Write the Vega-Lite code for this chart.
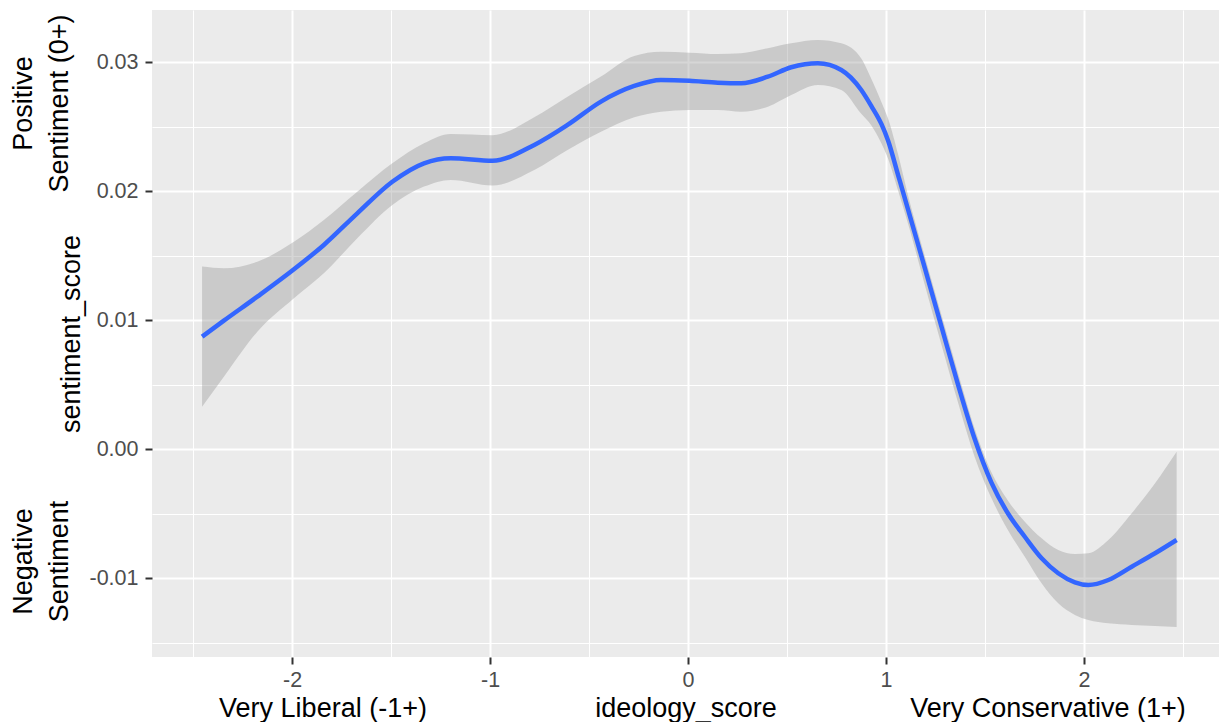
{
  "$schema": "https://vega.github.io/schema/vega-lite/v6.json",
  "width": 1067,
  "height": 647,
  "autosize": {"type": "none"},
  "padding": {"left": 152, "top": 10, "right": 0, "bottom": 65},
  "background": "#FFFFFF",
  "config": {
    "view": {"fill": "#EBEBEB", "stroke": null},
    "font": "Liberation Sans",
    "axis": {
      "labelFont": "Liberation Sans",
      "titleFont": "Liberation Sans",
      "labelFontSize": 21.5,
      "labelColor": "#4D4D4D",
      "titleFontSize": 27,
      "titleFontWeight": "normal",
      "titleColor": "#000000",
      "tickColor": "#333333",
      "tickSize": 7,
      "tickWidth": 2,
      "domain": false,
      "gridColor": "#FFFFFF",
      "gridWidth": 2,
      "gridOpacity": 1
    }
  },
  "data": {
    "values": [
      {"ideology_score": -2.455, "sentiment_score": 0.00873, "lower": 0.0033, "upper": 0.01416},
      {"ideology_score": -2.345, "sentiment_score": 0.00997, "lower": 0.00563, "upper": 0.01403},
      {"ideology_score": -2.176, "sentiment_score": 0.01183, "lower": 0.00912, "upper": 0.01454},
      {"ideology_score": -1.991, "sentiment_score": 0.01395, "lower": 0.01171, "upper": 0.01609},
      {"ideology_score": -1.84, "sentiment_score": 0.01584, "lower": 0.01364, "upper": 0.01778},
      {"ideology_score": -1.671, "sentiment_score": 0.01829, "lower": 0.01636, "upper": 0.01997},
      {"ideology_score": -1.494, "sentiment_score": 0.02074, "lower": 0.01894, "upper": 0.02217},
      {"ideology_score": -1.334, "sentiment_score": 0.02217, "lower": 0.02036, "upper": 0.02372},
      {"ideology_score": -1.199, "sentiment_score": 0.02256, "lower": 0.02088, "upper": 0.02444},
      {"ideology_score": -0.988, "sentiment_score": 0.02237, "lower": 0.02045, "upper": 0.02435},
      {"ideology_score": -0.777, "sentiment_score": 0.02359, "lower": 0.02165, "upper": 0.02574},
      {"ideology_score": -0.609, "sentiment_score": 0.02514, "lower": 0.0232, "upper": 0.02733},
      {"ideology_score": -0.44, "sentiment_score": 0.02695, "lower": 0.02462, "upper": 0.02889},
      {"ideology_score": -0.272, "sentiment_score": 0.02816, "lower": 0.02574, "upper": 0.03049},
      {"ideology_score": -0.137, "sentiment_score": 0.02863, "lower": 0.02617, "upper": 0.03082},
      {"ideology_score": 0.007, "sentiment_score": 0.02857, "lower": 0.0263, "upper": 0.03074},
      {"ideology_score": 0.15, "sentiment_score": 0.02842, "lower": 0.0263, "upper": 0.03064},
      {"ideology_score": 0.268, "sentiment_score": 0.02837, "lower": 0.02617, "upper": 0.0307},
      {"ideology_score": 0.403, "sentiment_score": 0.02888, "lower": 0.02656, "upper": 0.03109},
      {"ideology_score": 0.521, "sentiment_score": 0.02961, "lower": 0.02747, "upper": 0.03147},
      {"ideology_score": 0.656, "sentiment_score": 0.02992, "lower": 0.02824, "upper": 0.03173},
      {"ideology_score": 0.774, "sentiment_score": 0.0294, "lower": 0.02785, "upper": 0.03147},
      {"ideology_score": 0.875, "sentiment_score": 0.02785, "lower": 0.026, "upper": 0.0303},
      {"ideology_score": 0.926, "sentiment_score": 0.0266, "lower": 0.0251, "upper": 0.0287},
      {"ideology_score": 0.977, "sentiment_score": 0.0252, "lower": 0.0237, "upper": 0.0269},
      {"ideology_score": 1.011, "sentiment_score": 0.0239, "lower": 0.0225, "upper": 0.0256},
      {"ideology_score": 1.062, "sentiment_score": 0.0212, "lower": 0.02, "upper": 0.0228},
      {"ideology_score": 1.111, "sentiment_score": 0.0186, "lower": 0.0175, "upper": 0.0197},
      {"ideology_score": 1.195, "sentiment_score": 0.0141, "lower": 0.0128, "upper": 0.015},
      {"ideology_score": 1.28, "sentiment_score": 0.0095, "lower": 0.0081, "upper": 0.0104},
      {"ideology_score": 1.364, "sentiment_score": 0.005, "lower": 0.0036, "upper": 0.0059},
      {"ideology_score": 1.448, "sentiment_score": 0.0008, "lower": -0.0006, "upper": 0.0016},
      {"ideology_score": 1.533, "sentiment_score": -0.0026, "lower": -0.0038, "upper": -0.0018},
      {"ideology_score": 1.617, "sentiment_score": -0.005, "lower": -0.0063, "upper": -0.004},
      {"ideology_score": 1.701, "sentiment_score": -0.00678, "lower": -0.00833, "upper": -0.00561},
      {"ideology_score": 1.786, "sentiment_score": -0.00845, "lower": -0.01039, "upper": -0.0069},
      {"ideology_score": 1.87, "sentiment_score": -0.00961, "lower": -0.01194, "upper": -0.00781},
      {"ideology_score": 1.954, "sentiment_score": -0.01031, "lower": -0.01284, "upper": -0.00812},
      {"ideology_score": 2.022, "sentiment_score": -0.01052, "lower": -0.01323, "upper": -0.00806},
      {"ideology_score": 2.123, "sentiment_score": -0.01013, "lower": -0.01349, "upper": -0.00703},
      {"ideology_score": 2.241, "sentiment_score": -0.0091, "lower": -0.01362, "upper": -0.00496},
      {"ideology_score": 2.359, "sentiment_score": -0.00806, "lower": -0.0137, "upper": -0.00264},
      {"ideology_score": 2.468, "sentiment_score": -0.00703, "lower": -0.01378, "upper": -0.0002}
    ]
  },
  "layer": [
    {
      "mark": {"type": "area", "color": "#999999", "opacity": 0.4, "interpolate": "monotone"},
      "encoding": {
        "x": {
          "field": "ideology_score", "type": "quantitative",
          "scale": {"domain": [-2.708, 2.682], "nice": false, "zero": false},
          "axis": {
            "orient": "bottom",
            "values": [-2, -1, 0, 1, 2],
            "labelExpr": "replace(datum.label, '\u2212', '-')",
            "labelPadding": 5,
            "grid": true,
            "title": "ideology_score",
            "titleBaseline": "alphabetic",
            "titleY": 59
          }
        },
        "y": {
          "field": "lower", "type": "quantitative",
          "scale": {"domain": [-0.0161, 0.03405], "nice": false, "zero": false},
          "axis": {
            "orient": "left",
            "values": [-0.01, 0, 0.01, 0.02, 0.03],
            "format": ".2f",
            "labelExpr": "replace(datum.label, '\u2212', '-')",
            "labelPadding": 7,
            "grid": true,
            "title": "sentiment_score",
            "titleBaseline": "alphabetic",
            "titleX": -73
          }
        },
        "y2": {"field": "upper"}
      }
    },
    {
      "mark": {"type": "line", "color": "#3366FF", "strokeWidth": 4.5, "interpolate": "monotone"},
      "encoding": {
        "x": {
          "field": "ideology_score", "type": "quantitative",
          "scale": {"domain": [-2.708, 2.682], "nice": false, "zero": false},
          "axis": {
            "orient": "bottom",
            "values": [-2.5, -1.5, -0.5, 0.5, 1.5, 2.5],
            "grid": true,
            "gridWidth": 1,
            "ticks": false,
            "labels": false,
            "title": "Very Liberal (-1+)",
            "titleAlign": "center",
            "titleBaseline": "alphabetic",
            "titleX": 170.5,
            "titleY": 59
          }
        },
        "y": {
          "field": "sentiment_score", "type": "quantitative",
          "scale": {"domain": [-0.0161, 0.03405], "nice": false, "zero": false},
          "axis": {
            "orient": "left",
            "values": [-0.015, -0.005, 0.005, 0.015, 0.025],
            "grid": true,
            "gridWidth": 1,
            "ticks": false,
            "labels": false,
            "title": ["Positive", "Sentiment (0+)"],
            "titleAlign": "center",
            "titleBaseline": "bottom",
            "titleLineHeight": 36,
            "titleX": -114.5,
            "titleY": 93
          }
        }
      }
    },
    {
      "mark": {"type": "line", "strokeOpacity": 0},
      "encoding": {
        "x": {
          "field": "ideology_score", "type": "quantitative",
          "scale": {"domain": [-2.708, 2.682], "nice": false, "zero": false},
          "axis": {
            "orient": "bottom",
            "grid": false,
            "ticks": false,
            "labels": false,
            "title": "Very Conservative (1+)",
            "titleAlign": "center",
            "titleBaseline": "alphabetic",
            "titleX": 895.5,
            "titleY": 59
          }
        },
        "y": {
          "field": "sentiment_score", "type": "quantitative",
          "scale": {"domain": [-0.0161, 0.03405], "nice": false, "zero": false},
          "axis": {
            "orient": "left",
            "grid": false,
            "ticks": false,
            "labels": false,
            "title": ["Negative", "Sentiment"],
            "titleAlign": "center",
            "titleBaseline": "bottom",
            "titleLineHeight": 36,
            "titleX": -114.5,
            "titleY": 551
          }
        }
      }
    }
  ],
  "resolve": {"axis": {"x": "independent", "y": "independent"}}
}
